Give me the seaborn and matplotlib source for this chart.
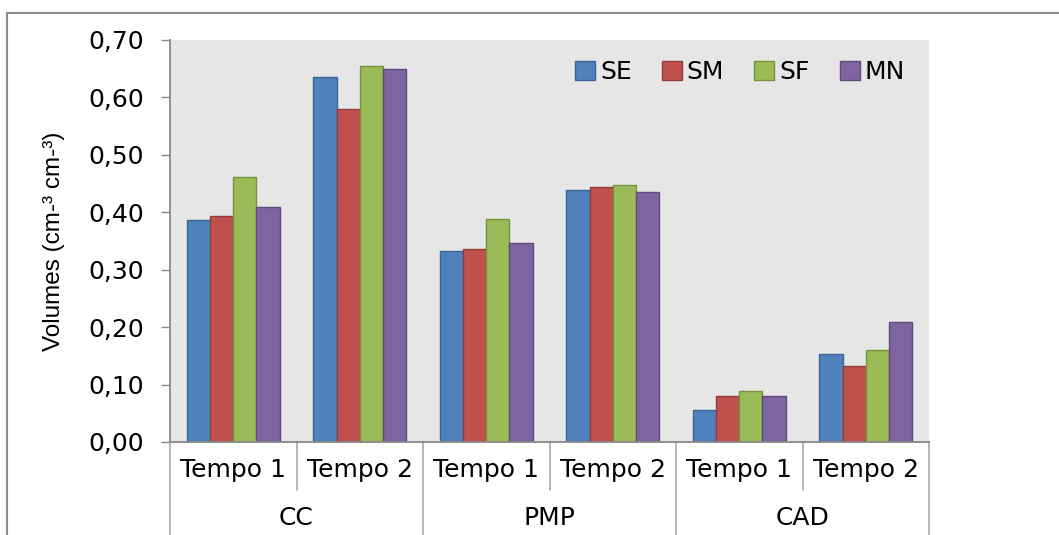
import pandas as pd
import seaborn as sns
import matplotlib.pyplot as plt
from matplotlib.patches import Patch, Rectangle
from matplotlib.ticker import FuncFormatter

# Valores (cm3 cm-3)
grupos = ['CC', 'CC', 'PMP', 'PMP', 'CAD', 'CAD']
tempos = ['Tempo 1', 'Tempo 2', 'Tempo 1', 'Tempo 2', 'Tempo 1', 'Tempo 2']
series = ['SE', 'SM', 'SF', 'MN']
se = [0.387, 0.635, 0.332, 0.439, 0.056, 0.154]
sm = [0.393, 0.580, 0.336, 0.444, 0.080, 0.133]
sf = [0.461, 0.654, 0.389, 0.447, 0.088, 0.160]
mn = [0.409, 0.650, 0.346, 0.436, 0.080, 0.209]
yticks = [0.0, 0.1, 0.2, 0.3, 0.4, 0.5, 0.6, 0.7]

cores = ['#4F81BD', '#C0504D', '#9BBB59', '#8064A2']
bordas = ['#3A6496', '#943C3A', '#76923C', '#5F4B7B']

# monta o dataframe em formato longo
rows = []
for serie, vals in zip(series, [se, sm, sf, mn]):
    for i, v in enumerate(vals):
        rows.append({'cat': f'{grupos[i]} {tempos[i]}', 'serie': serie, 'valor': v})
df = pd.DataFrame(rows)

sns.set_style('white')
plt.rcParams['font.family'] = ['DejaVu Sans']
plt.rcParams['text.color'] = 'black'
plt.rcParams['axes.labelcolor'] = 'black'
plt.rcParams['ytick.labelcolor'] = 'black'

fig = plt.figure(figsize=(10.59, 5.35), dpi=100)
ax = fig.add_axes([170 / 1059, 1 - 442 / 535, 759 / 1059, 402 / 535])

sns.barplot(data=df, x='cat', y='valor', hue='serie', palette=cores, saturation=1,
            width=0.735, linewidth=1.0, ax=ax, legend=False)
for cont, b in zip(ax.containers, bordas):
    for p in cont:
        p.set_edgecolor(b)

ax.set_facecolor('#E6E6E6')
ax.set_xlim(-0.5, 5.5)
ax.set_ylim(0, 0.7)
ax.set_yticks(yticks)
ax.yaxis.set_major_formatter(FuncFormatter(lambda v, p: f'{v:.2f}'.replace('.', ',')))
ax.tick_params(axis='y', left=True, length=6.5, width=1.0, color='#888888',
               pad=12, labelsize=18, labelcolor='black')
ax.set_xticks([])
ax.set_xlabel('')
ax.set_ylabel('Volumes (cm-³ cm-³)', fontsize=17.5, family='Liberation Sans', color='black')
ax.yaxis.set_label_coords(-0.138, 0.5)

for s in ['top', 'right']:
    ax.spines[s].set_visible(False)
for s in ['left', 'bottom']:
    ax.spines[s].set_color('#888888')
    ax.spines[s].set_linewidth(1.3)

# rotulos de categoria em dois niveis
trans = ax.get_xaxis_transform()
for i, t in enumerate(tempos):
    ax.text(i, -28 / 402, t, transform=trans, ha='center', va='center', fontsize=18)
for j, g in enumerate(['CC', 'PMP', 'CAD']):
    ax.text(2 * j + 0.5, -76 / 402, g, transform=trans, ha='center', va='center', fontsize=18)
for x in [0.5, 2.5, 4.5]:
    ax.plot([x, x], [0, -48 / 402], transform=trans, color='#A0A0A0', lw=1.1, clip_on=False)
for x in [-0.5, 1.5, 3.5, 5.5]:
    ax.plot([x, x], [0, -100 / 402], transform=trans, color='#A0A0A0', lw=1.1, clip_on=False)

handles = [Patch(facecolor=c, edgecolor=b, label=s) for s, c, b in zip(series, cores, bordas)]
ax.legend(handles=handles, ncol=4, loc='center right', bbox_to_anchor=(0.985, 0.92),
          frameon=False, fontsize=18, handlelength=0.8, handleheight=0.8,
          handletextpad=0.2, columnspacing=1.2, borderpad=0)

# moldura externa do grafico
fig.patches.append(Rectangle((7 / 1059, -0.1), 1.2, 1 - 13 / 535 + 0.1,
                             transform=fig.transFigure, fill=False,
                             edgecolor='#8C8C8C', lw=1.5, zorder=0))

fig.savefig('out.png', dpi=100)
